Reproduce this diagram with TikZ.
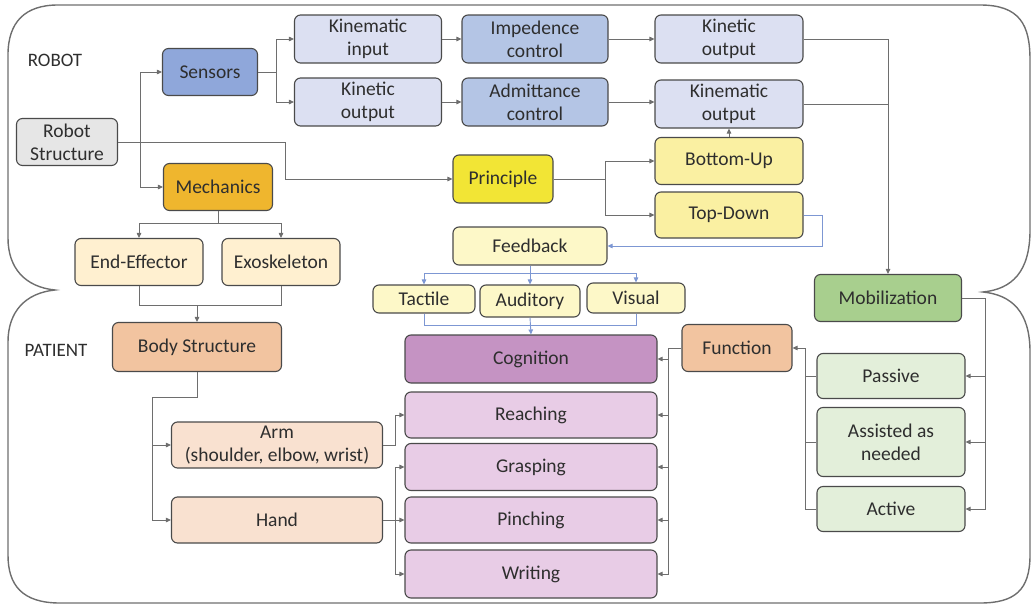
\documentclass[tikz,border=0pt]{standalone}
\usepackage{fontspec}
\setmainfont{Carlito}
\usetikzlibrary{arrows.meta}
\definecolor{boxline}{HTML}{4A4A4A}
\definecolor{lncol}{HTML}{6E6E6E}
\definecolor{blcol}{HTML}{7D97D3}
\definecolor{txt}{HTML}{2E2E2E}
\definecolor{cSens}{HTML}{8FA7DA}
\definecolor{cLav}{HTML}{DCE0F2}
\definecolor{cCtrl}{HTML}{B4C5E5}
\definecolor{cGray}{HTML}{E6E6E6}
\definecolor{cMech}{HTML}{EFB62E}
\definecolor{cCream}{HTML}{FFF0D0}
\definecolor{cPrin}{HTML}{F2E535}
\definecolor{cBU}{HTML}{FAF0A2}
\definecolor{cFb}{HTML}{FDF8C8}
\definecolor{cMob}{HTML}{A8CF8E}
\definecolor{cPas}{HTML}{E3EFDA}
\definecolor{cFunc}{HTML}{F2C4A0}
\definecolor{cArm}{HTML}{F9E1D0}
\definecolor{cCog}{HTML}{C593C3}
\definecolor{cPink}{HTML}{E8CCE6}
\begin{document}
\begin{tikzpicture}[x=1pt,y=-1pt,
  box/.style={draw=boxline, line width=1.1pt, rounded corners=6pt, align=center, inner sep=0pt,
    font=\fontsize{19.5}{23}\selectfont, text=txt},
  ln/.style={draw=lncol, line width=0.9pt},
  arr/.style={ln, -{Triangle[length=5pt,width=4.5pt]}},
  bl/.style={draw=blcol, line width=0.9pt},
  barr/.style={bl, -{Triangle[length=5pt,width=4.5pt]}},
  lbl/.style={font=\fontsize{19}{23}\selectfont, text=txt, inner sep=0pt}]
\useasboundingbox (0,0) rectangle (1033,608);
% frame
\draw[draw=lncol, line width=1.4pt]
  (58,5) -- (980,5) .. controls (1020,5) and (1030,25) .. (1030,60) -- (1030,230)
  .. controls (1030,272) and (1012,289) .. (983,292)
  .. controls (1012,295) and (1030,312) .. (1030,352) -- (1030,555)
  .. controls (1030,590) and (1015,603) .. (980,603) -- (60,603)
  .. controls (22,603) and (8,585) .. (8,555) -- (8,342)
  .. controls (8,312) and (25,293) .. (55,290)
  .. controls (25,287) and (8,268) .. (8,238) -- (8,55)
  .. controls (8,22) and (25,5) .. (58,5) -- cycle;
\node[lbl] (lrobot) at (55,60) {ROBOT};
\node[lbl] (lpat) at (56,350) {PATIENT};
% robot nodes
\node[box, fill=cGray, minimum width=101pt, minimum height=47pt] (rs) at (67,142) {Robot\\Structure};
\node[box, fill=cSens, minimum width=95pt, minimum height=47pt] (sens) at (210,72) {Sensors};
\node[box, fill=cMech, minimum width=109pt, minimum height=47pt] (mech) at (218,187) {Mechanics};
\node[box, fill=cCream, minimum width=128pt, minimum height=47pt] (ee) at (139,262) {End-Effector};
\node[box, fill=cCream, minimum width=118pt, minimum height=47pt] (exo) at (281,262) {Exoskeleton};
\node[box, fill=cLav, minimum width=147pt, minimum height=48pt] (kin) at (368,39) {Kinematic\\input};
\node[box, fill=cLav, minimum width=147pt, minimum height=48pt] (kout) at (368,102) {Kinetic\\output};
\node[box, fill=cCtrl, minimum width=146pt, minimum height=48pt] (imp) at (535,39) {Impedence\\control};
\node[box, fill=cCtrl, minimum width=146pt, minimum height=48pt] (adm) at (535,102) {Admittance\\control};
\node[box, fill=cLav, minimum width=148pt, minimum height=48pt] (ko2) at (729,39) {Kinetic\\output};
\node[box, fill=cLav, minimum width=148pt, minimum height=48pt] (km2) at (729,104) {Kinematic\\output};
\node[box, fill=cPrin, minimum width=100pt, minimum height=48pt] (prin) at (503,179) {Principle};
\node[box, fill=cBU, minimum width=148pt, minimum height=47pt] (bu) at (729,161) {Bottom-Up};
\node[box, fill=cBU, minimum width=148pt, minimum height=46pt] (td) at (729,215) {Top-Down};
\node[box, fill=cFb, minimum width=154pt, minimum height=38pt] (fb) at (530,246) {Feedback};
\node[box, fill=cFb, minimum width=102pt, minimum height=28pt] (tac) at (424,299) {Tactile};
\node[box, fill=cFb, minimum width=100pt, minimum height=32pt] (aud) at (530,301) {Auditory};
\node[box, fill=cFb, minimum width=98pt, minimum height=30pt] (vis) at (636,298) {Visual};
\node[box, fill=cMob, minimum width=147pt, minimum height=47pt] (mob) at (888,298) {Mobilization};
% patient nodes
\node[box, fill=cFunc, minimum width=169pt, minimum height=49pt] (body) at (197,347) {Body Structure};
\node[box, fill=cArm, minimum width=211pt, minimum height=46pt] (arm) at (277,445) {Arm\\(shoulder, elbow, wrist)};
\node[box, fill=cArm, minimum width=211pt, minimum height=46pt] (hand) at (277,520) {Hand};
\node[box, fill=cCog, minimum width=252pt, minimum height=48pt] (cog) at (531,359) {Cognition};
\node[box, fill=cPink, minimum width=252pt, minimum height=46pt] (reach) at (531,415) {Reaching};
\node[box, fill=cPink, minimum width=252pt, minimum height=47pt] (grasp) at (531,467) {Grasping};
\node[box, fill=cPink, minimum width=252pt, minimum height=46pt] (pinch) at (531,520) {Pinching};
\node[box, fill=cPink, minimum width=252pt, minimum height=48pt] (write) at (531,574) {Writing};
\node[box, fill=cFunc, minimum width=110pt, minimum height=47pt] (func) at (737,348) {Function};
\node[box, fill=cPas, minimum width=148pt, minimum height=45pt] (pas) at (891,376) {Passive};
\node[box, fill=cPas, minimum width=148pt, minimum height=69pt] (asn) at (891,442) {Assisted as\\needed};
\node[box, fill=cPas, minimum width=148pt, minimum height=45pt] (act) at (891,509) {Active};
% junctions
\coordinate (j1) at (140,142);
\coordinate (j2) at (276,72);
\coordinate (j3) at (605,179);
\coordinate (j4) at (530,273);
\coordinate (j5) at (530,325);
\coordinate (j6) at (218,223);
\coordinate (j7) at (197,305);
\coordinate (j8) at (152,397);
\coordinate (j9) at (395,520);
\coordinate (j10) at (668,348);
\coordinate (j11) at (985,298);
\coordinate (j12) at (805,348);
% robot connectors
\draw[arr] (rs.east) -- (285,142) |- (prin.west);
\draw[arr] (j1) |- (sens.west);
\draw[arr] (j1) |- (mech.west);
\draw[ln] (sens.east) -- (j2);
\draw[arr] (j2) |- (kin.west);
\draw[arr] (j2) |- (kout.west);
\draw[arr] (kin.east) -- (imp.west);
\draw[arr] (kout.east) -- (adm.west);
\draw[arr] (imp.east) -- (ko2.west);
\draw[arr] (adm.east) -- (km2.west |- adm.east);
\draw[arr] (ko2.east) -| (mob.north);
\draw[ln] (km2.east) -- (mob.north |- km2.east);
\draw[ln] (prin.east) -- (j3);
\draw[arr] (j3) |- (bu.west);
\draw[arr] (j3) |- (td.west);
\draw[arr] (bu.north) -- (km2.south);
\draw[barr] (td.east) -- (822,215) |- (fb.east);
\draw[bl] (fb.south) -- (j4);
\draw[barr] (j4) -| (tac.north);
\draw[barr] (j4) -| (vis.north);
\draw[barr] (j4) -- (aud.north);
\draw[bl] (tac.south) |- (j5);
\draw[bl] (vis.south) |- (j5);
\draw[barr] (aud.south) -- (cog.north);
\draw[ln] (mech.south) -- (j6);
\draw[arr] (j6) -| (ee.north);
\draw[arr] (j6) -| (exo.north);
% patient connectors
\draw[ln] (ee.south) |- (j7);
\draw[ln] (exo.south) |- (j7);
\draw[arr] (j7) -- (body.north);
\draw[ln] (body.south) |- (j8);
\draw[arr] (j8) |- (arm.west);
\draw[arr] (j8) |- (hand.west);
\draw[arr] (arm.east) -- (395,445) |- (reach.west);
\draw[ln] (hand.east) -- (j9);
\draw[arr] (j9) |- (grasp.west);
\draw[arr] (j9) -- (pinch.west);
\draw[arr] (j9) |- (write.west);
\draw[ln] (func.west) -- (j10);
\draw[arr] (j10) |- (cog.east);
\draw[arr] (j10) |- (reach.east);
\draw[arr] (j10) |- (grasp.east);
\draw[arr] (j10) |- (pinch.east);
\draw[arr] (j10) |- (write.east);
\draw[ln] (mob.east) -- (j11);
\draw[arr] (j11) |- (pas.east);
\draw[arr] (j11) |- (asn.east);
\draw[arr] (j11) |- (act.east);
\draw[ln] (pas.west) -| (j12);
\draw[ln] (asn.west) -| (j12);
\draw[ln] (act.west) -| (j12);
\draw[arr] (j12) -- (func.east);
\end{tikzpicture}
\end{document}
